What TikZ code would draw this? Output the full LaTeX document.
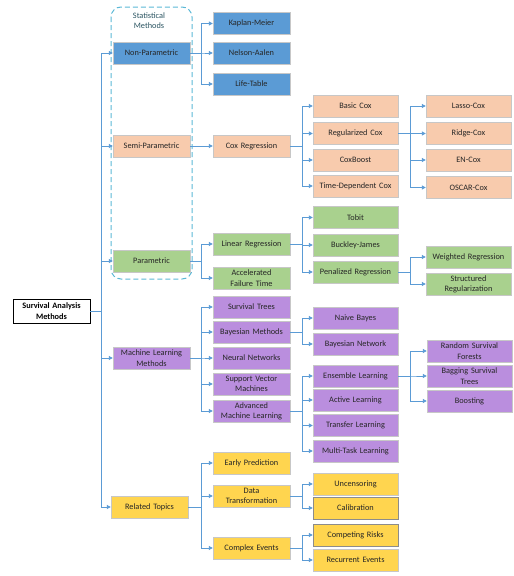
\documentclass[tikz,border=0pt]{standalone}
\usepackage{fontspec}
\setmainfont{Carlito}
\usetikzlibrary{arrows.meta}

\definecolor{npblue}{HTML}{5B9BD5}
\definecolor{sporange}{HTML}{F8CBAD}
\definecolor{pgreen}{HTML}{A9D18E}
\definecolor{mlpurple}{HTML}{BA8EDE}
\definecolor{rtyellow}{HTML}{FFD54F}
\definecolor{linkblue}{HTML}{5B9BD5}
\definecolor{dashblue}{HTML}{5BB8D6}

\tikzset{
  box/.style={draw=black!22, minimum height=22pt, align=center, inner sep=0.5pt,
    font=\fontsize{8.3}{10.3}\selectfont, text=black!85},
  colone/.style={box, minimum width=77pt, text width=76pt},
  coltwo/.style={box, minimum width=77pt, text width=76pt},
  colthree/.style={box, minimum width=85pt, text width=84pt},
  colfour/.style={box, minimum width=85pt, text width=84pt},
  link/.style={draw=linkblue, line width=0.9pt, -{Triangle[length=4pt,width=4pt]}},
}

\begin{document}
\begin{tikzpicture}[x=1pt,y=-1pt]
  \useasboundingbox (0,0) rectangle (514,576);

  % statistical methods frame
  \draw[dashblue, line width=1pt, dash pattern=on 5pt off 3pt, rounded corners=10pt] (111,7) rectangle (192,279);
  \node[font=\fontsize{8.3}{10.3}\selectfont, text=black!55!dashblue, align=center] (stat) at (149,20.5) {Statistical\\Methods};

  % root
  \node[box, draw=black, fill=white, minimum width=77pt, minimum height=24pt, text width=76pt, text=black] (root) at (51.5,311) {\textbf{Survival Analysis}\\\textbf{Methods}};

  % first level
  \node[colone, fill=npblue]   (np)  at (151.5,53)  {Non-Parametric};
  \node[colone, fill=sporange] (sp)  at (151.5,146) {Semi-Parametric};
  \node[colone, fill=pgreen]   (par) at (151.5,261) {Parametric};
  \node[colone, fill=mlpurple] (ml)  at (151.5,358) {Machine Learning\\Methods};
  \node[colone, fill=rtyellow] (rt)  at (149.5,507) {Related Topics};

  % second level
  \node[coltwo, fill=npblue]   (km)   at (251.5,23.5) {Kaplan-Meier};
  \node[coltwo, fill=npblue]   (na)   at (251.5,53)   {Nelson-Aalen};
  \node[coltwo, fill=npblue]   (lt)   at (251.5,84)   {Life-Table};
  \node[coltwo, fill=sporange] (cox)  at (251.5,146)  {Cox Regression};
  \node[coltwo, fill=pgreen]   (lin)  at (251.5,244)  {Linear Regression};
  \node[coltwo, fill=pgreen]   (aft)  at (251.5,278)  {Accelerated\\Failure Time};
  \node[coltwo, fill=mlpurple] (st)   at (251.5,307)  {Survival Trees};
  \node[coltwo, fill=mlpurple] (bm)   at (251.5,332)  {Bayesian Methods};
  \node[coltwo, fill=mlpurple] (nn)   at (251.5,358)  {Neural Networks};
  \node[coltwo, fill=mlpurple] (svm)  at (251.5,384)  {Support Vector\\Machines};
  \node[coltwo, fill=mlpurple] (aml)  at (251.5,411)  {Advanced\\Machine Learning};
  \node[coltwo, fill=rtyellow] (ep)   at (251.5,463)  {Early Prediction};
  \node[coltwo, fill=rtyellow] (dt)   at (251.5,496)  {Data\\Transformation};
  \node[coltwo, fill=rtyellow] (ce)   at (251.5,548)  {Complex Events};

  % third level
  \node[colthree, fill=sporange] (bcox)   at (355.5,106)   {Basic Cox};
  \node[colthree, fill=sporange] (rcox)   at (355.5,133.5) {Regularized Cox};
  \node[colthree, fill=sporange] (cboost) at (355.5,160)   {CoxBoost};
  \node[colthree, fill=sporange] (tdcox)  at (355.5,186)   {Time-Dependent Cox};
  \node[colthree, fill=pgreen]   (tobit)  at (355.5,217.5) {Tobit};
  \node[colthree, fill=pgreen]   (bj)     at (355.5,245)   {Buckley-James};
  \node[colthree, fill=pgreen]   (pen)    at (355.5,272)   {Penalized Regression};
  \node[colthree, fill=mlpurple] (nb)     at (355.5,318)   {Naive Bayes};
  \node[colthree, fill=mlpurple] (bn)     at (355.5,344)   {Bayesian Network};
  \node[colthree, fill=mlpurple] (ens)    at (355.5,376)   {Ensemble Learning};
  \node[colthree, fill=mlpurple] (al)     at (355.5,400)   {Active Learning};
  \node[colthree, fill=mlpurple] (tl)     at (355.5,425.5) {Transfer Learning};
  \node[colthree, fill=mlpurple] (mtl)    at (355.5,451)   {Multi-Task Learning};
  \node[colthree, fill=rtyellow] (unc)    at (355.5,484)   {Uncensoring};
  \node[colthree, fill=rtyellow, draw=black!45] (cal) at (355.5,508) {Calibration};
  \node[colthree, fill=rtyellow, draw=black!45] (cr)  at (355.5,535) {Competing Risks};
  \node[colthree, fill=rtyellow] (re)     at (355.5,560)   {Recurrent Events};

  % fourth level
  \node[colfour, fill=sporange] (lasso) at (468.5,106)   {Lasso-Cox};
  \node[colfour, fill=sporange] (ridge) at (468.5,133.5) {Ridge-Cox};
  \node[colfour, fill=sporange] (en)    at (468.5,160)   {EN-Cox};
  \node[colfour, fill=sporange] (oscar) at (468.5,187.5) {OSCAR-Cox};
  \node[colfour, fill=pgreen]   (wr)    at (468.5,257)   {Weighted Regression};
  \node[colfour, fill=pgreen]   (sr)    at (468.5,284)   {Structured\\Regularization};
  \node[colfour, fill=mlpurple] (rsf)   at (469.5,351)   {Random Survival\\Forests};
  \node[colfour, fill=mlpurple] (bst)   at (469.5,376)   {Bagging Survival\\Trees};
  \node[colfour, fill=mlpurple] (boost) at (469.5,401)   {Boosting};

  % connectors
  \foreach \c in {np,sp,par,ml,rt}
    \draw[link] (root.east) -- ++(11,0) |- (\c.west);
  \foreach \c in {km,na,lt}
    \draw[link] (np.east) -- ++(11,0) |- (\c.west);
  \draw[link] (sp.east) -- (cox.west);
  \foreach \c in {lin,aft}
    \draw[link] (par.east) -- ++(11,0) |- (\c.west);
  \foreach \c in {st,bm,nn,svm,aml}
    \draw[link] (ml.east) -- ++(11,0) |- (\c.west);
  \foreach \c in {ep,dt,ce}
    \draw[link] (rt.east) -- ++(13,0) |- (\c.west);
  \foreach \c in {bcox,rcox,cboost,tdcox}
    \draw[link] (cox.east) -- ++(12,0) |- (\c.west);
  \foreach \c in {tobit,bj,pen}
    \draw[link] (lin.east) -- ++(12,0) |- (\c.west);
  \foreach \c in {nb,bn}
    \draw[link] (bm.east) -- ++(12,0) |- (\c.west);
  \foreach \c in {ens,al,tl,mtl}
    \draw[link] (aml.east) -- ++(12,0) |- (\c.west);
  \foreach \c in {unc,cal}
    \draw[link] (dt.east) -- ++(12,0) |- (\c.west);
  \foreach \c in {cr,re}
    \draw[link] (ce.east) -- ++(12,0) |- (\c.west);
  \foreach \c in {lasso,ridge,en,oscar}
    \draw[link] (rcox.east) -- ++(12,0) |- (\c.west);
  \foreach \c in {wr,sr}
    \draw[link] (pen.east) -- ++(12,0) |- (\c.west);
  \foreach \c in {rsf,bst,boost}
    \draw[link] (ens.east) -- ++(12,0) |- (\c.west);
\end{tikzpicture}
\end{document}
